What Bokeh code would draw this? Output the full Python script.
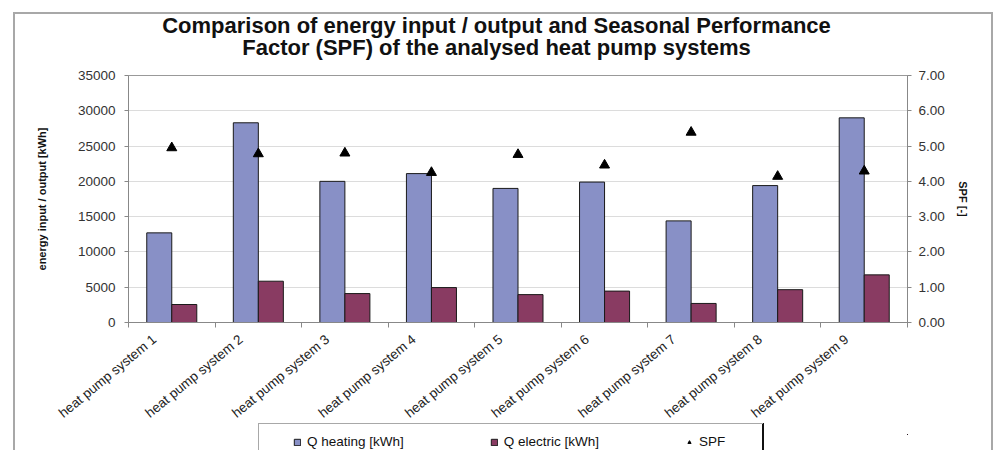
from bokeh.plotting import figure
from bokeh.layouts import column
from bokeh.models import (ColumnDataSource, Range1d, LinearAxis, FixedTicker, Label,
                          SingleIntervalTicker, Legend, LegendItem, NumeralTickFormatter)
from bokeh.transform import dodge
from bokeh.embed import file_html
from bokeh.resources import INLINE

systems = ["heat pump system 1", "heat pump system 2", "heat pump system 3",
           "heat pump system 4", "heat pump system 5", "heat pump system 6",
           "heat pump system 7", "heat pump system 8", "heat pump system 9"]
q_heating = [12700, 28300, 20000, 21100, 19000, 19900, 14400, 19400, 29000]
q_electric = [2550, 5850, 4100, 4950, 3950, 4450, 2700, 4650, 6750]
spf = [4.95, 4.78, 4.80, 4.25, 4.76, 4.46, 5.39, 4.14, 4.29]
title_lines = ["Comparison of energy input / output and Seasonal Performance",
               "Factor (SPF) of the analysed heat pump systems"]
legend_labels = ["Q heating [kWh]", "Q electric [kWh]", "SPF"]

FONT = "Liberation Sans"
HEAT = "#8890C6"
ELEC = "#893B62"
BORDER = "#a8a8a8"
W = 999
FRAME_LEFT = 128


def bare(height, **kw):
    f = figure(width=W, height=height, x_axis_location=None, y_axis_location=None,
               output_backend="svg", toolbar_location=None, min_border=0, **kw)
    f.outline_line_color = None
    f.background_fill_alpha = 0
    f.border_fill_alpha = 0
    f.grid.grid_line_color = None
    return f


# ---------------- title strip (frame is aligned with the chart frame) ----------------
pt = bare(60)
for t, yc in zip(title_lines, (25, 47)):
    pt.add_layout(Label(x=496 - FRAME_LEFT, y=60 - yc, x_units="screen", y_units="screen",
                        text=t, text_font=FONT, text_font_size="22px", text_font_style="bold",
                        text_align="center", text_baseline="middle", text_color="#111111"))

# ---------------- main chart ----------------
n = len(systems)
xpos = [i + 0.5 for i in range(n)]
src = ColumnDataSource(dict(x=xpos, sys=systems, qh=q_heating, qe=q_electric, spf=spf))

p = figure(width=W, height=374, x_range=Range1d(0, n), y_range=Range1d(0, 35000),
           x_axis_location=None, output_backend="svg", toolbar_location=None,
           min_border_left=FRAME_LEFT, min_border_right=92, min_border_top=15,
           min_border_bottom=112)
p.outline_line_color = "#999999"
p.background_fill_color = "white"
p.border_fill_alpha = 0
p.xgrid.grid_line_color = None
p.ygrid.grid_line_color = "#dcdcdc"
p.ygrid.ticker = SingleIntervalTicker(interval=5000, num_minor_ticks=0)
p.extra_y_ranges = {"spf": Range1d(0, 7)}

ya = p.yaxis[0]
ya.ticker = SingleIntervalTicker(interval=5000, num_minor_ticks=0)
ya.axis_label = "energy input / output [kWh]"
ya.axis_label_text_font = FONT
ya.axis_label_text_font_size = "11px"
ya.axis_label_text_font_style = "bold"
ya.axis_label_text_color = "#111111"
ya.axis_label_standoff = 27
ya.major_label_text_font = FONT
ya.major_label_text_font_size = "13.5px"
ya.major_label_text_color = "#333333"
ya.major_label_standoff = 9
ya.axis_line_color = "#888888"
ya.major_tick_line_color = "#888888"
ya.major_tick_out = 4
ya.major_tick_in = 0
ya.minor_tick_line_color = None

ra = LinearAxis(y_range_name="spf", ticker=SingleIntervalTicker(interval=1, num_minor_ticks=0),
                formatter=NumeralTickFormatter(format="0.00"))
ra.axis_label = "SPF [-]"
ra.axis_label_text_font = FONT
ra.axis_label_text_font_size = "11px"
ra.axis_label_text_font_style = "bold"
ra.axis_label_text_color = "#111111"
ra.axis_label_standoff = 9
ra.major_label_text_font = FONT
ra.major_label_text_font_size = "13.5px"
ra.major_label_text_color = "#333333"
ra.major_label_standoff = 7
ra.axis_line_color = "#888888"
ra.major_tick_line_color = "#888888"
ra.major_tick_out = 4
ra.major_tick_in = 0
ra.minor_tick_line_color = None
p.add_layout(ra, "right")

# category axis: names slightly left of the centres (as rotated Excel labels), tick marks
# between the categories drawn as minor ticks
label_pos = [round(x - 0.2, 2) for x in xpos]
la = LinearAxis(ticker=FixedTicker(ticks=label_pos, minor_ticks=list(range(n + 1))),
                major_label_overrides={x: s for x, s in zip(label_pos, systems)})
la.major_label_orientation = 0.69
la.major_label_text_font = FONT
la.major_label_text_font_size = "13.5px"
la.major_label_text_color = "#222222"
la.major_label_standoff = 10
la.axis_line_color = "#888888"
la.major_tick_line_color = None
la.major_tick_out = 0
la.major_tick_in = 0
la.minor_tick_line_color = "#888888"
la.minor_tick_out = 5
la.minor_tick_in = 0
p.add_layout(la, "below")

p.vbar(x=dodge("x", -0.1445), top="qh", width=0.289, source=src,
       fill_color=HEAT, line_color="#1a1a1a", line_width=1)
p.vbar(x=dodge("x", 0.1445), top="qe", width=0.289, source=src,
       fill_color=ELEC, line_color="#1a1a1a", line_width=1)
p.scatter(x="x", y="spf", source=src, y_range_name="spf", marker="triangle",
          size=10, fill_color="black", line_color="black")

# ---------------- legend strip ----------------
# same series drawn off-view here only so that the legend can show their swatches
pl = bare(16, x_range=Range1d(-100, -99), y_range=Range1d(-100, -99))
lg_h = pl.vbar(x="x", top="qh", width=0.289, source=src, fill_color=HEAT, line_color="#1a1a1a")
lg_e = pl.vbar(x="x", top="qe", width=0.289, source=src, fill_color=ELEC, line_color="#1a1a1a")
lg_s = pl.scatter(x="x", y="spf", source=src, marker="triangle", size=9,
                  fill_color="black", line_color="black")
legend = Legend(items=[LegendItem(label=legend_labels[0], renderers=[lg_h]),
                       LegendItem(label=legend_labels[1], renderers=[lg_e]),
                       LegendItem(label=legend_labels[2], renderers=[lg_s])],
                location=(293 - FRAME_LEFT, 1), orientation="horizontal", spacing=86,
                padding=0, margin=0, border_line_color=None, background_fill_alpha=0,
                glyph_width=8, glyph_height=8, label_height=14, label_standoff=6,
                label_text_font=FONT, label_text_font_size="13.5px", label_text_color="#111111")
pl.add_layout(legend, "center")

layout = column(pt, p, pl, spacing=0)
# chart-area border and legend frame, drawn as the page background behind transparent canvases
g = f"linear-gradient({BORDER},{BORDER})"
gb = "linear-gradient(#111,#111)"
layout.styles = {
    "background-color": "white",
    "background-image": ", ".join([g, g, g, g, g, gb]),
    "background-position": "13px 12px, 13px 12px, 991px 12px, 258px 423px, 258px 423px, 762px 423px",
    "background-size": "2px 460px, 980px 2px, 2px 460px, 505px 1px, 1px 40px, 2px 40px",
    "background-repeat": "no-repeat",
}

open("out.html", "w").write(file_html(layout, INLINE))
